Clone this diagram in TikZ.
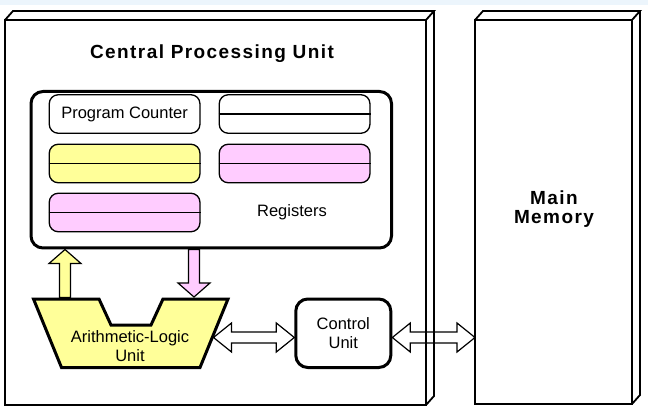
\documentclass[tikz,border=0pt]{standalone}
\usepackage{fontspec}
\setmainfont{Liberation Sans}
\newfontfamily\spacedfont[LetterSpace=7.5]{Liberation Sans}
\usetikzlibrary{positioning}
\usetikzlibrary{calc}

\definecolor{regyellow}{RGB}{255,255,153}
\definecolor{regpink}{RGB}{255,204,255}
\definecolor{topband}{RGB}{236,245,252}

\tikzset{
  unitbox/.style={draw, line width=1.8pt, inner sep=0pt, outer sep=0pt},
  regbox/.style={draw, line width=1.3pt, rounded corners=9pt, minimum width=150.7pt, minimum height=38.5pt, inner sep=0pt},
  thickbox/.style={draw, line width=3pt, rounded corners=12pt, inner sep=0pt},
  labeltext/.style={font=\fontsize{16.5}{19}\selectfont, align=center, inner sep=0pt},
  headtext/.style={font=\spacedfont\bfseries\fontsize{19}{18.5}\selectfont, align=center, inner sep=0pt},
  fatline/.style={draw, line width=1.2pt, line join=miter},
}

% single bus arrow, #1 tail, #2 tip, #3 fill
\newcommand\busup[3]{%
  \path[fatline, fill=#3] let \p1=(#1), \p2=(#2), \p3=($(#2)!14pt!(#1)$) in
    (\x1-5.5pt,\y1) -- (\x1-5.5pt,\y3) -- (\x1-16pt,\y3) -- (\x2,\y2) -- (\x1+16pt,\y3) -- (\x1+5.5pt,\y3) -- (\x1+5.5pt,\y1) -- cycle;}
% hollow double bus arrow, #1 left tip, #2 right tip
\newcommand\busboth[2]{%
  \path[fatline] let \p1=(#1), \p2=(#2), \p3=($(#1)!18pt!(#2)$), \p4=($(#2)!18pt!(#1)$) in
    (\x1,\y1) -- (\x3,\y1+14.5pt) -- (\x3,\y1+5.5pt) -- (\x4,\y1+5.5pt) -- (\x4,\y1+14.5pt) -- (\x2,\y1)
    -- (\x4,\y1-14.5pt) -- (\x4,\y1-5.5pt) -- (\x3,\y1-5.5pt) -- (\x3,\y1-14.5pt) -- cycle;}

\begin{document}
\begin{tikzpicture}[x=1pt,y=1pt,yscale=-1,xscale=1]
\useasboundingbox (0,0) rectangle (648,414);
\fill[topband] (0,0) rectangle (648,5);

%Shape: CPU box
\node[unitbox, minimum width=421pt, minimum height=385pt] (cpu) at (215.5,212.5) {};
\draw[unitbox] (cpu.north west) -- ++(8,-9) -- ($(cpu.north east)+(8,-9)$) -- (cpu.north east);
\draw[unitbox] ($(cpu.north east)+(8,-9)$) -- ($(cpu.south east)+(8,-9)$) -- (cpu.south east);
%Shape: Memory box
\node[unitbox, minimum width=157pt, minimum height=384pt] (mem) at (553.5,212) {};
\draw[unitbox] (mem.north west) -- ++(8,-9) -- ($(mem.north east)+(8,-9)$) -- (mem.north east);
\draw[unitbox] ($(mem.north east)+(8,-9)$) -- ($(mem.south east)+(8,-9)$) -- (mem.south east);

% Text Node
\node[headtext, anchor=base] (cputitle) at (212,58.5) {Central Processing Unit};
% Text Node
\node[headtext] (memlabel) at (554,209) {Main\\Memory};

%Shape: Registers
\node[thickbox, minimum width=360.5pt, minimum height=156.5pt] (regs) at (211.25,169.75) {};
\node[regbox, labeltext] (pc) at (124.6,114) {Program Counter};
\node[regbox] (regb) at (294.6,114) {};
\node[regbox, fill=regyellow] (regc) at (124.6,163.5) {};
\node[regbox, fill=regpink] (regd) at (294.6,163.5) {};
\node[regbox, fill=regpink] (rege) at (124.6,212.5) {};
\foreach \r in {regb,regc,regd,rege}
  \draw[line width=1.3pt] (\r.west) -- (\r.east);
% Text Node
\node[labeltext, anchor=base] (reglabel) at (292,217) {Registers};

%Shape: Control Unit
\node[thickbox, labeltext, minimum width=95pt, minimum height=68.5pt] (cu) at (343.3,333.25) {Control\\Unit};

% bus ends
\coordinate (aluout) at (65,297.5);
\coordinate (aluin) at (194,297);
\coordinate (aluport) at (213.5,337.5);
\coordinate (regsout) at (aluout |- regs.south);
\coordinate (regsin) at (aluin |- regs.south);
\coordinate (cuin) at (aluport -| cu.west);
\coordinate (cuout) at (aluport -| cu.east);
\coordinate (memin) at (aluport -| mem.west);

\busup{aluout}{regsout}{regyellow}
\busup{regsin}{aluin}{regpink}

%Shape: ALU
\draw[line width=3pt, fill=regyellow, line join=miter] (33.5,299) -- (99,299) -- (111,325) -- (151,325) -- (163,299) -- (228,299) -- (200,367.5) -- (61.5,367.5) -- cycle;
% Text Node
\node[labeltext] (alulabel) at (130,346.5) {Arithmetic-Logic\\Unit};

\busboth{aluport}{cuin}
\busboth{cuout}{memin}

\end{tikzpicture}
\end{document}
